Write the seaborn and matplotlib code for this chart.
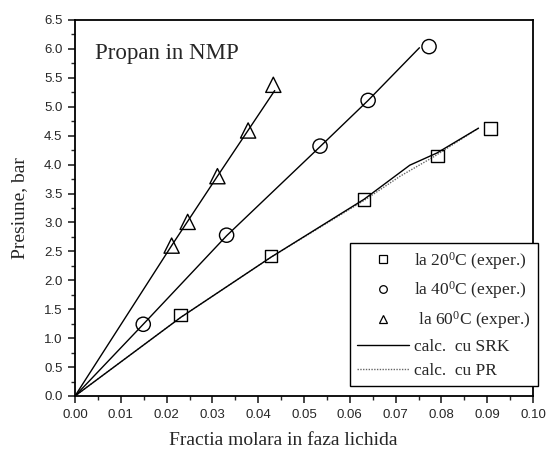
import matplotlib
matplotlib.use("Agg")
import matplotlib.pyplot as plt
import seaborn as sns
from matplotlib.lines import Line2D
from matplotlib.ticker import MultipleLocator, FormatStrFormatter

# experimental data
x20 = [0.0231, 0.0428, 0.0631, 0.0792, 0.0908]
p20 = [1.40, 2.42, 3.40, 4.15, 4.62]
x40 = [0.0149, 0.0331, 0.0535, 0.0640, 0.0773]
p40 = [1.24, 2.78, 4.32, 5.11, 6.04]
x60 = [0.0211, 0.0246, 0.0311, 0.0378, 0.0433]
p60 = [2.60, 3.01, 3.80, 4.59, 5.38]

# calculated curves (SRK)
srk20_x = [0.0, 0.0231, 0.0428, 0.0631, 0.0731, 0.0790, 0.0881]
srk20_p = [0.0, 1.36, 2.40, 3.40, 3.99, 4.20, 4.63]
srk40_x = [0.0, 0.0149, 0.0331, 0.0535, 0.0640, 0.0752]
srk40_p = [0.0, 1.24, 2.77, 4.31, 5.11, 6.02]
srk60_x = [0.0, 0.0211, 0.0311, 0.0436]
srk60_p = [0.0, 2.60, 3.80, 5.28]
# calculated curve (PR), coincides with SRK except near 0.065-0.085
pr20_x = [0.0, 0.0231, 0.0428, 0.0631, 0.0710, 0.0782, 0.0881]
pr20_p = [0.0, 1.36, 2.40, 3.38, 3.80, 4.13, 4.63]

legend_labels = [r"la 20$^{0}$C (exper.)", r"la 40$^{0}$C (exper.)",
                 r" la 60$^{0}$C (exper.)", "calc.  cu SRK", "calc.  cu PR"]

sns.set_style("ticks")
plt.rcParams["font.family"] = ["Liberation Serif", "DejaVu Serif"]
plt.rcParams["mathtext.fontset"] = "custom"
plt.rcParams["mathtext.rm"] = "Liberation Serif"
plt.rcParams["mathtext.it"] = "Liberation Serif:italic"

fig = plt.figure(figsize=(5.47, 4.54), dpi=100)
ax = fig.add_axes([75/547, 1 - 396/454, (533-75)/547, (396-20)/454])

lw = 1.0
sns.lineplot(x=pr20_x, y=pr20_p, ax=ax, color="#666666", lw=1.0, ls=(0, (1, 1)),
             sort=False, estimator=None, legend=False)
for xs, ps in [(srk20_x, srk20_p), (srk40_x, srk40_p), (srk60_x, srk60_p)]:
    sns.lineplot(x=xs, y=ps, ax=ax, color="black", lw=lw, sort=False,
                 estimator=None, legend=False)

mk = dict(facecolor="none", edgecolor="black", linewidth=1.0, legend=False, zorder=5)
sns.scatterplot(x=x20, y=p20, ax=ax, marker="s", s=85, **mk)
sns.scatterplot(x=x40, y=p40, ax=ax, marker="o", s=105, **mk)
sns.scatterplot(x=x60, y=p60, ax=ax, marker="^", s=120, **mk)

ax.set_xlim(0, 0.10)
ax.set_ylim(0, 6.5)
ax.xaxis.set_major_locator(MultipleLocator(0.01))
ax.xaxis.set_minor_locator(MultipleLocator(0.005))
ax.yaxis.set_major_locator(MultipleLocator(0.5))
ax.yaxis.set_minor_locator(MultipleLocator(0.25))
ax.xaxis.set_major_formatter(FormatStrFormatter("%.2f"))
ax.yaxis.set_major_formatter(FormatStrFormatter("%.1f"))
ax.tick_params(which="major", direction="out", length=5, width=1.2,
               labelsize=9.5, top=False, right=False, pad=4)
ax.tick_params(which="minor", direction="out", length=3, width=1.0,
               top=False, right=False)
for lab in ax.get_xticklabels() + ax.get_yticklabels():
    lab.set_fontfamily(["Liberation Sans", "DejaVu Sans"])
for sp in ax.spines.values():
    sp.set_visible(True)
    sp.set_linewidth(1.3)
    sp.set_color("black")

ax.set_xlabel("Fractia molara in faza lichida", fontsize=14)
ax.set_ylabel("Presiune, bar", fontsize=14)
ax.xaxis.set_label_coords((283-75)/(533-75), -(432-396)/(396-20), transform=ax.transAxes)
ax.yaxis.set_label_coords(-(75-28)/(533-75), 0.5, transform=ax.transAxes)

ax.text(95/547, 1 - 53/454, "Propan in NMP", fontsize=16.5, transform=fig.transFigure,
        va="center", ha="left")

handles = [
    Line2D([], [], ls="none", marker="s", mfc="none", mec="black", ms=5.5, mew=0.9),
    Line2D([], [], ls="none", marker="o", mfc="none", mec="black", ms=5.5, mew=0.9),
    Line2D([], [], ls="none", marker="^", mfc="none", mec="black", ms=6, mew=0.9),
    Line2D([], [], color="black", lw=1.0),
    Line2D([], [], color="#666666", lw=1.0, ls=(0, (1, 1))),
]
leg = ax.legend(handles, legend_labels, loc="lower right",
                bbox_to_anchor=((538-75)/(533-75), (396-386)/(396-20)),
                fontsize=12.5, frameon=True, fancybox=False, framealpha=1,
                edgecolor="black", handlelength=3.0, handletextpad=0.3,
                labelspacing=0.45, borderpad=0.4, borderaxespad=0)
leg.get_frame().set_linewidth(1.0)

fig.savefig("out.png", dpi=100)
